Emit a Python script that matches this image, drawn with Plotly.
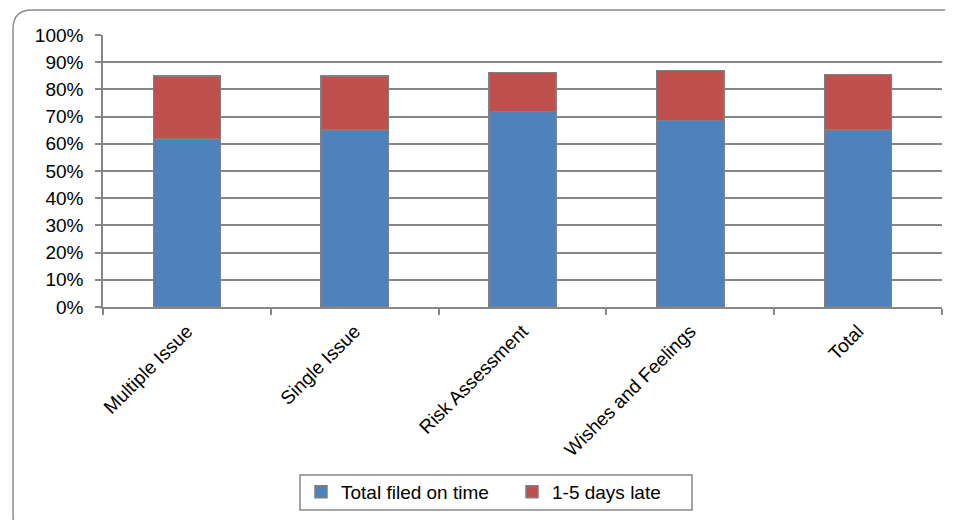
import plotly.graph_objects as go

categories = ["Multiple Issue", "Single Issue", "Risk Assessment", "Wishes and Feelings", "Total"]
on_time = [0.618, 0.651, 0.718, 0.685, 0.651]
late_1_5 = [0.232, 0.199, 0.145, 0.184, 0.204]
series_names = ["Total filed on time", "1-5 days late"]
y_ticks = [i / 10 for i in range(11)]
y_tick_labels = [f"{i * 10}%" for i in range(11)]

W, H = 953, 520
OFF = 8  # page body margin
# plot area in screenshot pixels
SL, SR, ST, SB = 103, 942, 35, 307
L, T = SL - OFF, ST - OFF
R, B = W - (SR - OFF), H - (SB - OFF)
pw, ph = W - L - R, H - T - B


def px(x):
    return (x - OFF - L) / pw


def py(y):
    return (H - B - (y - OFF)) / ph


font = dict(family="Liberation Sans, Arial, sans-serif", size=19, color="#000000")
grey = "#868686"

fig = go.Figure()
fig.add_trace(go.Bar(x=categories, y=on_time, name=series_names[0],
                     marker=dict(color="#4F81BD", line=dict(color="#7F7F7F", width=1.5)),
                     width=0.4))
fig.add_trace(go.Bar(x=categories, y=late_1_5, name=series_names[1],
                     marker=dict(color="#C0504D", line=dict(color="#7F7F7F", width=1.5)),
                     width=0.4))

# outer rounded frame (screenshot pixel coords)
x0, x1, y0, y1, r = 13, 975, 10, 535, 19
path = (f"M {px(x0)},{py(y0 + r)} Q {px(x0)},{py(y0)} {px(x0 + r)},{py(y0)} "
        f"L {px(x1 - r)},{py(y0)} Q {px(x1)},{py(y0)} {px(x1)},{py(y0 + r)} "
        f"L {px(x1)},{py(y1 - r)} Q {px(x1)},{py(y1)} {px(x1 - r)},{py(y1)} "
        f"L {px(x0 + r)},{py(y1)} Q {px(x0)},{py(y1)} {px(x0)},{py(y1 - r)} Z")
fig.add_shape(type="path", path=path, xref="paper", yref="paper",
              line=dict(color="#8C8C8C", width=1.5), layer="below")

# legend box
fig.add_shape(type="rect", xref="paper", yref="paper",
              x0=px(300), x1=px(692), y0=py(475), y1=py(510),
              line=dict(color=grey, width=1.5), layer="below")

fig.update_layout(
    width=W, height=H,
    margin=dict(l=L, r=R, t=T, b=B, pad=0),
    barmode="stack",
    paper_bgcolor="white", plot_bgcolor="white",
    font=font,
    showlegend=True,
    legend=dict(orientation="h", x=px(301), xanchor="left", y=py(492), yanchor="middle",
                borderwidth=0, bgcolor="rgba(0,0,0,0)", font=font,
                entrywidth=166, itemwidth=30, traceorder="normal"),
    xaxis=dict(showgrid=False, showline=True, linecolor=grey, linewidth=1.5,
               ticks="outside", tickson="boundaries", ticklen=6, tickcolor=grey,
               tickwidth=1.5, tickangle=-45, tickfont=font, ticklabelstandoff=4,
               fixedrange=True),
    yaxis=dict(range=[0, 1], tickvals=y_ticks, ticktext=y_tick_labels,
               showgrid=True, gridcolor=grey, gridwidth=1.5,
               showline=True, linecolor=grey, linewidth=1.5,
               ticks="outside", ticklen=6, tickcolor=grey, tickwidth=1.5,
               tickfont=font, ticklabelstandoff=8, zeroline=False, fixedrange=True),
)

fig.write_html("out.html")
